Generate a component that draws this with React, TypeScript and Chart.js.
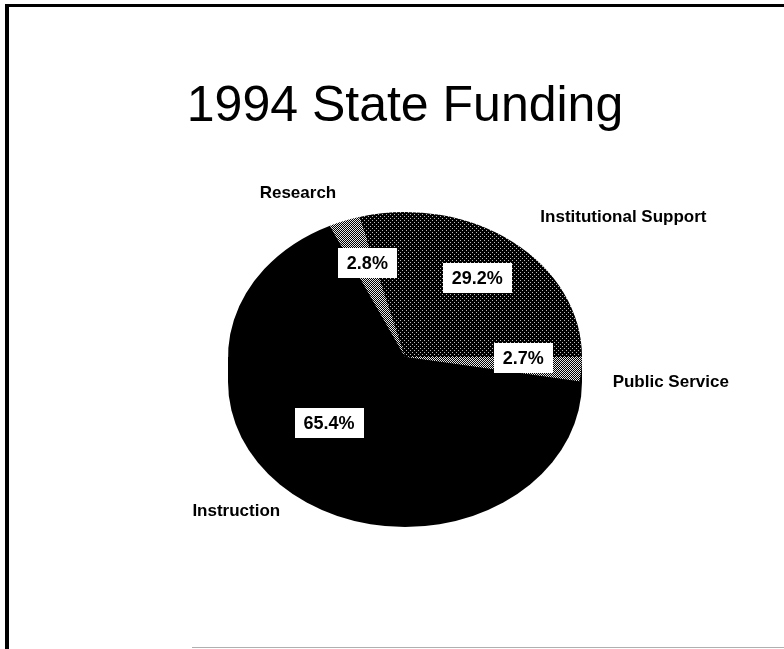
import React, { useEffect, useRef } from "react";
import { Chart, registerables } from "chart.js";

Chart.register(...registerables);

const TITLE = "1994 State Funding";
const categories = ["Institutional Support", "Public Service", "Instruction", "Research"];
const shares = [29.2, 2.7, 65.4, 2.8];
const percentLabels = ["29.2%", "2.7%", "65.4%", "2.8%"];
const fillKinds = ["dots", "check", "solid", "check"];

const START_ROTATION = -15;
const SQUASH = 0.819;
const DEPTH = 25;
const OUTER_FACTOR = 1.2;
const INNER_FACTOR = 0.67;
const OUTER_NUDGE = [[6, -2], [-4, 8], [4, -4], [4, 0]];
const INNER_NUDGE = [[0, -2], [0, -7], [-4, -11], [3, -3]];
const FONT = '"Liberation Sans", Arial, Helvetica, sans-serif';

function makePattern(ctx: CanvasRenderingContext2D, kind: string): CanvasPattern | string {
  if (kind === "solid") return "#000000";
  const c = document.createElement("canvas");
  c.width = 4;
  c.height = 4;
  const g = c.getContext("2d")!;
  g.fillStyle = "#000";
  g.fillRect(0, 0, 4, 4);
  if (kind === "dots") {
    g.fillStyle = "#bcbcbc";
    g.fillRect(0, 0, 1, 1);
    g.fillRect(2, 2, 1, 1);
  } else {
    g.fillStyle = "#e6e6e6";
    g.fillRect(0, 0, 1, 1);
    g.fillRect(1, 1, 1, 1);
    g.fillRect(2, 2, 1, 1);
    g.fillRect(3, 3, 1, 1);
    g.fillRect(2, 0, 1, 1);
    g.fillRect(0, 2, 1, 1);
    g.fillRect(3, 1, 1, 1);
    g.fillRect(1, 3, 1, 1);
  }
  return ctx.createPattern(c, "repeat")!;
}

export default function App() {
  const ref = useRef<HTMLCanvasElement | null>(null);

  useEffect(() => {
    const canvas = ref.current!;
    const ctx0 = canvas.getContext("2d")!;
    const patterns = fillKinds.map((k) => makePattern(ctx0, k));

    const piePlugin = {
      id: "ellipticPie",
      beforeDatasetsDraw(chart: any) {
        const meta = chart.getDatasetMeta(0);
        const ctx = chart.ctx as CanvasRenderingContext2D;
        const a0 = meta.data[0] as any;
        const cx = a0.x, cy = a0.y, r = a0.outerRadius;
        patterns.forEach((p) => {
          if (typeof p !== "string" && (p as any).setTransform) {
            (p as any).setTransform(new DOMMatrix([1, 0, 0, 1 / SQUASH, 0, (-cy * (1 - SQUASH)) / SQUASH]));
          }
        });
        // side of the pie (depth)
        ctx.save();
        ctx.fillStyle = "#000";
        ctx.beginPath();
        ctx.ellipse(cx, cy + DEPTH, r, r * SQUASH, 0, 0, Math.PI * 2);
        ctx.fill();
        ctx.fillRect(cx - r, cy, 2 * r, DEPTH);
        ctx.restore();
        // squash the top face
        ctx.save();
        ctx.translate(cx, cy);
        ctx.scale(1, SQUASH);
        ctx.translate(-cx, -cy);
      },
      afterDatasetsDraw(chart: any) {
        const ctx = chart.ctx as CanvasRenderingContext2D;
        ctx.restore();
        const meta = chart.getDatasetMeta(0);
        meta.data.forEach((arc: any, i: number) => {
          const mid = (arc.startAngle + arc.endAngle) / 2;
          const c = Math.cos(mid), s = Math.sin(mid);
          const r = arc.outerRadius;
          // inner percentage label in white box
          const ix = arc.x + r * INNER_FACTOR * c + INNER_NUDGE[i][0];
          const iy = arc.y + r * SQUASH * INNER_FACTOR * s + INNER_NUDGE[i][1];
          ctx.save();
          ctx.font = `bold 18px ${FONT}`;
          const w = ctx.measureText(percentLabels[i]).width + 18;
          const h = 30;
          ctx.fillStyle = "#ffffff";
          ctx.fillRect(Math.round(ix - w / 2), Math.round(iy - h / 2), Math.round(w), h);
          ctx.fillStyle = "#000000";
          ctx.textAlign = "center";
          ctx.textBaseline = "middle";
          ctx.fillText(percentLabels[i], ix, iy + 1);
          // outer category label
          const ox = arc.x + r * OUTER_FACTOR * c + OUTER_NUDGE[i][0];
          const oy = arc.y + r * SQUASH * OUTER_FACTOR * s + (s > 0 ? DEPTH * s : 0) + OUTER_NUDGE[i][1];
          ctx.font = `bold 17px ${FONT}`;
          ctx.textAlign = c >= 0 ? "left" : "right";
          ctx.textBaseline = "middle";
          ctx.fillText(categories[i], ox, oy);
          ctx.restore();
        });
      },
    };

    const chart = new Chart(canvas, {
      type: "pie",
      data: {
        labels: categories,
        datasets: [
          {
            data: shares,
            backgroundColor: patterns as any,
            borderWidth: 0,
            hoverOffset: 0,
          },
        ],
      },
      options: {
        responsive: false,
        animation: false,
        rotation: START_ROTATION,
        layout: { padding: { left: 26, right: 0, top: 0, bottom: 115 } },
        plugins: {
          legend: { display: false },
          tooltip: { enabled: false },
          title: {
            display: true,
            text: TITLE,
            color: "#000000",
            font: { family: FONT, size: 50, weight: "normal", lineHeight: 1.2 },
            padding: { top: 77, bottom: 43 },
          },
        },
      },
      plugins: [piePlugin],
    });
    return () => chart.destroy();
  }, []);

  return (
    <div style={{ position: "fixed", left: 0, top: 0, width: 784, height: 649, background: "#ffffff", overflow: "hidden" }}>
      <canvas ref={ref} width={784} height={649} style={{ position: "absolute", left: 0, top: 0, width: 784, height: 649 }} />
      <div style={{ position: "absolute", left: 5, top: 4, width: 800, height: 700, borderLeft: "4px solid #000", borderTop: "3px solid #000", pointerEvents: "none" }} />
      <div style={{ position: "absolute", left: 192, top: 647, width: 600, height: 1, background: "#b0b0b0" }} />
    </div>
  );
}
